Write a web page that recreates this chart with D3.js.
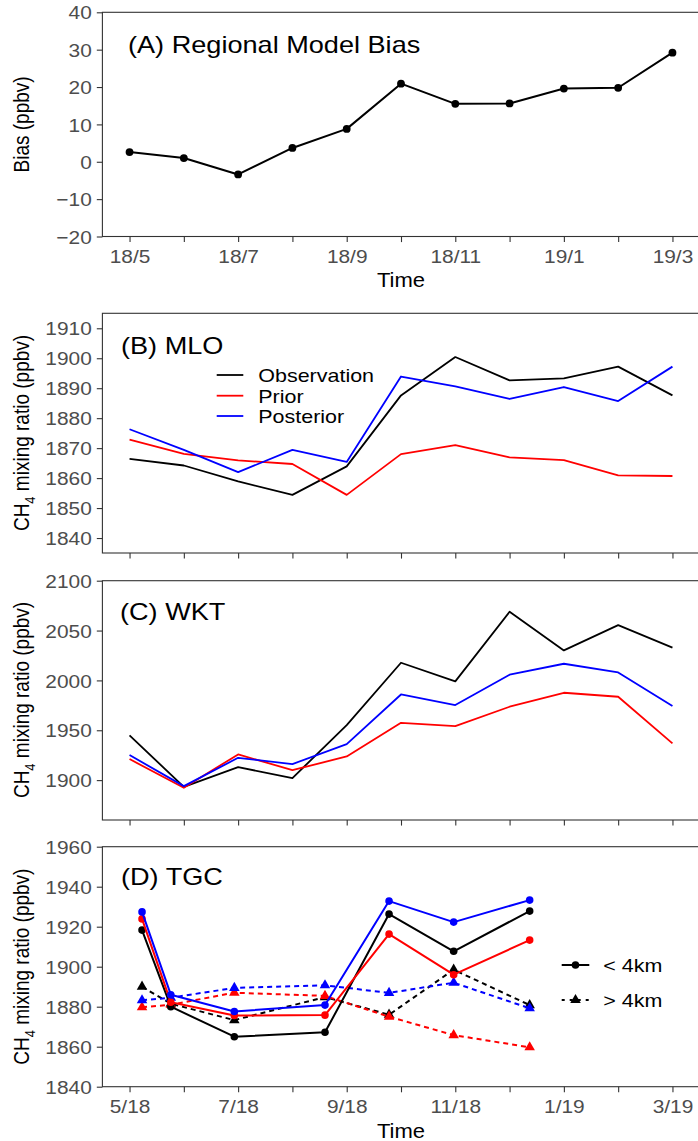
<!DOCTYPE html>
<html>
<head>
<meta charset="utf-8">
<script src="https://cdn.jsdelivr.net/npm/d3@7"></script>
<style>
body { margin: 0; background: #fff; }
svg { display: block; font-family: "Liberation Sans", Arial, Helvetica, sans-serif; }
</style>
</head>
<body>
<div id="wrapper"></div>
<script>
// month index: 0 = May 2018 ... 10 = Mar 2019
const monthIndex = [0, 1, 2, 3, 4, 5, 6, 7, 8, 9, 10];
const tickLabelsTop = ["18/5", "", "18/7", "", "18/9", "", "18/11", "", "19/1", "", "19/3"];
const tickLabelsBottom = ["5/18", "", "7/18", "", "9/18", "", "11/18", "", "1/19", "", "3/19"];

const yTicksA = [-20, -10, 0, 10, 20, 30, 40];
const yTicksB = [1840, 1850, 1860, 1870, 1880, 1890, 1900, 1910];
const yTicksC = [1900, 1950, 2000, 2050, 2100];
const yTicksD = [1840, 1860, 1880, 1900, 1920, 1940, 1960];

// (A) regional model bias
const biasValues = [2.6, 1.0, -3.4, 3.7, 8.8, 20.9, 15.5, 15.6, 19.6, 19.8, 29.2];

// (B) MLO
const mloObs   = [1866.4, 1864.2, 1858.9, 1854.4, 1863.9, 1887.6, 1900.4, 1892.6, 1893.3, 1897.2, 1887.6];
const mloPrior = [1872.8, 1868.1, 1865.9, 1864.7, 1854.4, 1868.0, 1871.0, 1866.9, 1866.0, 1860.9, 1860.7];
const mloPost  = [1876.3, 1869.4, 1862.0, 1869.4, 1865.4, 1893.9, 1890.6, 1886.4, 1890.4, 1885.7, 1897.2];

// (C) WKT
const wktObs   = [1944.8, 1893.3, 1913.0, 1902.0, 1955.2, 2017.7, 1999.0, 2068.9, 2030.1, 2055.5, 2032.8];
const wktPrior = [1921.1, 1892.3, 1925.8, 1910.0, 1923.7, 1957.5, 1954.2, 1973.6, 1987.6, 1983.6, 1936.8];
const wktPost  = [1925.1, 1894.0, 1922.4, 1916.1, 1936.1, 1985.9, 1975.3, 2005.7, 2016.7, 2008.0, 1974.3];

// (D) TGC aircraft, sampled mid-month
const tgcMonth   = [0.23, 0.76, 1.93, 3.6, 4.78, 5.97, 7.37];
const lowObs     = [1918.3, 1880.0, 1865.0, 1867.2, 1926.3, 1907.7, 1927.8];
const lowPrior   = [1923.9, 1882.2, 1875.6, 1875.8, 1916.3, 1896.0, 1913.3];
const lowPost    = [1927.4, 1886.0, 1877.6, 1880.8, 1932.8, 1922.3, 1933.3];
const highObs    = [1890.0, 1881.5, 1873.3, 1884.8, 1876.0, 1898.5, 1880.8];
const highPrior  = [1879.7, 1881.0, 1887.0, 1885.4, 1875.0, 1865.8, 1859.7];
const highPost   = [1883.2, 1884.5, 1889.4, 1890.7, 1886.9, 1892.0, 1879.2];

const seriesNames = ["Observation", "Prior", "Posterior"];
const altitudeNames = ["< 4km", "> 4km"];
const colors = ["#000000", "#ff0000", "#0000ff"];

const SX = 1.13;   // the figure is a bit wider than tall, text is stretched too
const xLeft = 102.4, xRight = 699.6;

const svg = d3.select("#wrapper").append("svg")
    .attr("width", 698)
    .attr("height", 1141);
svg.append("rect").attr("width", 698).attr("height", 1141).attr("fill", "#fff");

const xScaler = d3.scaleLinear().domain([-0.5, 10.5]).range([xLeft, xRight]);

function addText(g, x, y, str, size, opts = {}) {
    const t = g.append("text")
        .attr("transform", `translate(${x},${y}) scale(${SX},1)` + (opts.rotate ? " rotate(-90)" : ""))
        .attr("font-size", size)
        .attr("fill", opts.fill || "#000")
        .attr("text-anchor", opts.anchor || "start");
    if (str !== null) t.text(str);
    return t;
}

function drawPanel(top, bottom, domain, yTicks, xLabels) {
    const g = svg.append("g");
    const yScaler = d3.scaleLinear().domain(domain).range([bottom, top]);

    g.append("rect")
        .attr("x", xLeft)
        .attr("y", top)
        .attr("width", 720 - xLeft)
        .attr("height", bottom - top)
        .attr("fill", "none")
        .attr("stroke", "#333")
        .attr("stroke-width", 1.1);

    const yAxis = g.append("g")
        .attr("transform", `translate(${xLeft},0)`)
        .call(d3.axisLeft(yScaler).tickValues(yTicks).tickSize(5.6).tickSizeOuter(0).tickFormat(d3.format("d")));
    yAxis.attr("font-family", null).attr("font-size", null);
    yAxis.select(".domain").remove();
    yAxis.selectAll("line").attr("stroke", "#333").attr("stroke-width", 1.1);
    yAxis.selectAll("text")
        .attr("x", null)
        .attr("dy", "0.36em")
        .attr("transform", `translate(-10.6,0) scale(${SX},1)`)
        .attr("fill", "#4d4d4d")
        .attr("font-size", 18.5);

    const xAxis = g.append("g")
        .attr("transform", `translate(0,${bottom})`)
        .call(d3.axisBottom(xScaler).tickValues(monthIndex).tickSize(5.6).tickSizeOuter(0).tickPadding(8)
            .tickFormat((d, i) => xLabels ? xLabels[i] : ""));
    xAxis.attr("font-family", null).attr("font-size", null);
    xAxis.select(".domain").remove();
    xAxis.selectAll("line").attr("stroke", "#333").attr("stroke-width", 1.1);
    xAxis.selectAll("text")
        .attr("transform", `scale(${SX},1)`)
        .attr("fill", "#4d4d4d")
        .attr("font-size", 18.5);

    return {g, yScaler};
}

function ch4Title(g, cy) {
    const t = addText(g, 29, cy, null, 19, {rotate: true, anchor: "middle"});
    t.append("tspan").text("CH");
    t.append("tspan").attr("font-size", 13).attr("dy", 5).text("4");
    t.append("tspan").attr("dy", -5).text(" mixing ratio (ppbv)");
}

function drawLine(g, xs, ys, yScaler, color, width, dash) {
    const line = d3.line().x((d, i) => xScaler(xs[i])).y(d => yScaler(d));
    g.append("path")
        .datum(ys)
        .attr("d", line)
        .attr("fill", "none")
        .attr("stroke", color)
        .attr("stroke-width", width)
        .attr("stroke-dasharray", dash || null)
        .attr("stroke-linejoin", "round");
}

// ---------- (A)
{
    const {g, yScaler} = drawPanel(12.3, 236.5, [-20, 40], yTicksA, tickLabelsTop);
    drawLine(g, monthIndex, biasValues, yScaler, "#000", 2);
    g.append("g").selectAll("circle")
        .data(biasValues)
        .enter()
        .append("circle")
        .attr("cx", (d, i) => xScaler(monthIndex[i]))
        .attr("cy", d => yScaler(d))
        .attr("r", 3.9)
        .attr("fill", "#000");
    addText(g, 128, 53, "(A) Regional Model Bias", 24);
    addText(g, 401, 287, "Time", 19.5, {anchor: "middle"});
    addText(g, 29, 124.4, "Bias (ppbv)", 19, {rotate: true, anchor: "middle"});
}

// ---------- (B)
{
    const {g, yScaler} = drawPanel(313.3, 553, [1835, 1915], yTicksB, null);
    [mloObs, mloPrior, mloPost].forEach((s, k) => drawLine(g, monthIndex, s, yScaler, colors[k], 1.8));
    addText(g, 121, 354, "(B) MLO", 24);
    ch4Title(g, 433);

    const legend = g.append("g");
    const rows = [375, 395.7, 416];
    seriesNames.forEach((name, k) => {
        legend.append("line")
            .attr("x1", 216.7).attr("x2", 243.3)
            .attr("y1", rows[k]).attr("y2", rows[k])
            .attr("stroke", colors[k]).attr("stroke-width", 1.8);
        addText(legend, 258.3, rows[k] + 6.9, name, 19);
    });
}

// ---------- (C)
{
    const {g, yScaler} = drawPanel(580.7, 820, [1860, 2100], yTicksC, null);
    [wktObs, wktPrior, wktPost].forEach((s, k) => drawLine(g, monthIndex, s, yScaler, colors[k], 1.8));
    addText(g, 120, 620, "(C) WKT", 24);
    ch4Title(g, 700);
}

// ---------- (D)
{
    const {g, yScaler} = drawPanel(846.7, 1086.7, [1840, 1960], yTicksD, tickLabelsBottom);
    const tri = d3.symbol().type(d3.symbolTriangle).size(48);
    const highSets = [highObs, highPrior, highPost];
    const lowSets = [lowObs, lowPrior, lowPost];

    highSets.forEach((s, k) => {
        drawLine(g, tgcMonth, s, yScaler, colors[k], 2, "5,4");
        g.append("g").selectAll("path")
            .data(s)
            .enter()
            .append("path")
            .attr("d", tri)
            .attr("transform", (d, i) => `translate(${xScaler(tgcMonth[i])},${yScaler(d)})`)
            .attr("fill", colors[k]);
    });
    lowSets.forEach((s, k) => {
        drawLine(g, tgcMonth, s, yScaler, colors[k], 2);
        g.append("g").selectAll("circle")
            .data(s)
            .enter()
            .append("circle")
            .attr("cx", (d, i) => xScaler(tgcMonth[i]))
            .attr("cy", d => yScaler(d))
            .attr("r", 3.8)
            .attr("fill", colors[k]);
    });

    addText(g, 121, 885, "(D) TGC", 24);
    addText(g, 401, 1138, "Time", 19.5, {anchor: "middle"});
    ch4Title(g, 966.7);

    // legend for altitude
    const legend = g.append("g");
    const rows = [965, 1000];
    altitudeNames.forEach((name, k) => {
        legend.append("line")
            .attr("x1", 561.7).attr("x2", 589.3)
            .attr("y1", rows[k]).attr("y2", rows[k])
            .attr("stroke", "#000").attr("stroke-width", 2)
            .attr("stroke-dasharray", k === 1 ? "3,5" : null);
        if (k === 0) {
            legend.append("circle").attr("cx", 575.5).attr("cy", rows[k]).attr("r", 3.8).attr("fill", "#000");
        } else {
            legend.append("path").attr("d", tri).attr("transform", `translate(575.5,${rows[k]})`).attr("fill", "#000");
        }
        addText(legend, 603.3, rows[k] + 6.9, name, 19);
    });
}
</script>
</body>
</html>
